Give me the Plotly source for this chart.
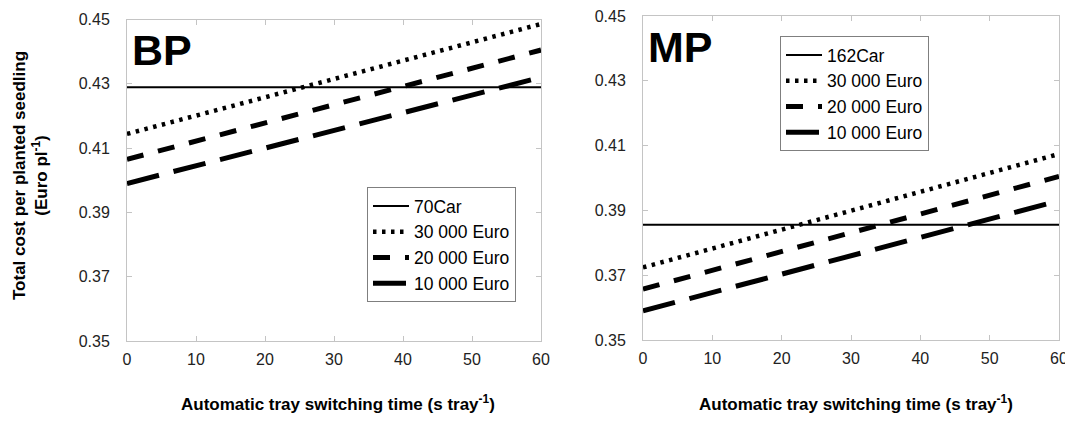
import plotly.graph_objects as go

# ---- data ----
switch_time = [0, 60]  # s tray-1

bp_names = ["70Car", "30 000 Euro", "20 000 Euro", "10 000 Euro"]
bp_ref = [0.4289, 0.4289]
bp_30k = [0.4144, 0.4486]
bp_20k = [0.4065, 0.4405]
bp_10k = [0.3990, 0.4320]

mp_names = ["162Car", "30 000 Euro", "20 000 Euro", "10 000 Euro"]
mp_ref = [0.3856, 0.3856]
mp_30k = [0.3724, 0.4074]
mp_20k = [0.3657, 0.4005]
mp_10k = [0.3590, 0.3930]

x_ticks = [0, 10, 20, 30, 40, 50, 60]
y_ticks = [0.35, 0.37, 0.39, 0.41, 0.43, 0.45]
y_tick_labels = ["0.35", "0.37", "0.39", "0.41", "0.43", "0.45"]

FONT = "Liberation Sans, Arial, sans-serif"

styles = [
    dict(color="black", width=2, dash="solid"),
    dict(color="black", width=4.5, dash="3.5px,5.5px"),
    dict(color="black", width=5, dash="17px,15px"),
    dict(color="black", width=5, dash="33px,15px"),
]

fig = go.Figure()

for name, vals, st in zip(bp_names, [bp_ref, bp_30k, bp_20k, bp_10k], styles):
    fig.add_trace(go.Scatter(x=switch_time, y=vals, mode="lines", name=name,
                             line=st, xaxis="x", yaxis="y", legend="legend"))
for name, vals, st in zip(mp_names, [mp_ref, mp_30k, mp_20k, mp_10k], styles):
    fig.add_trace(go.Scatter(x=switch_time, y=vals, mode="lines", name=name,
                             line=st, xaxis="x2", yaxis="y2", legend="legend2"))

W, H = 1073, 425
OFF = 8  # page body margin offset of the rendered figure

def px(v):
    return (v - OFF) / W

def py(v):
    return 1 - (v - OFF) / H

axis_common = dict(
    showgrid=False, zeroline=False, showline=True, linecolor="#c4c4c4", linewidth=1,
    mirror="ticks", ticks="inside", ticklen=5, tickcolor="#c4c4c4", tickwidth=1,
    automargin=False, ticklabeloverflow="allow",
    tickfont=dict(family=FONT, size=16, color="#222222"),
)

legend_common = dict(
    xanchor="left", yanchor="top",
    bordercolor="#7f7f7f", borderwidth=1, bgcolor="white",
    font=dict(family=FONT, size=17.5, color="black"),
    itemwidth=36, tracegroupgap=0,
)

fig.update_layout(
    template="none",
    width=W, height=H,
    margin=dict(l=0, r=0, t=0, b=0, pad=0),
    paper_bgcolor="white", plot_bgcolor="white",
    font=dict(family=FONT, color="black"),
    xaxis=dict(domain=[px(127), px(541)], range=[0, 60], tickvals=x_ticks,
               anchor="y", ticklabelstandoff=4, **axis_common),
    yaxis=dict(domain=[py(341), py(19.5)], range=[0.35, 0.45], tickvals=y_ticks,
               ticktext=y_tick_labels, anchor="x", ticklabelstandoff=13, **axis_common),
    xaxis2=dict(domain=[px(643), px(1059)], range=[0, 60], tickvals=x_ticks,
                anchor="y2", ticklabelstandoff=4, **axis_common),
    yaxis2=dict(domain=[py(340), py(16)], range=[0.35, 0.45], tickvals=y_ticks,
                ticktext=y_tick_labels, anchor="x2", ticklabelstandoff=13, **axis_common),
    legend=dict(x=px(367), y=py(187), **legend_common),
    legend2=dict(x=px(780), y=py(36), **legend_common),
    showlegend=True,
)

annotations = [
    dict(text="<b>BP</b>", x=px(130), y=py(50), xanchor="left", yanchor="middle",
         font=dict(family=FONT, size=43, color="black")),
    dict(text="<b>MP</b>", x=px(646), y=py(47), xanchor="left", yanchor="middle",
         font=dict(family=FONT, size=43, color="black")),
    dict(text="<b>Automatic tray switching time (s tray<sup>-1</sup>)</b>", x=px(338), y=py(403),
         xanchor="center", yanchor="middle", font=dict(family=FONT, size=17, color="black")),
    dict(text="<b>Automatic tray switching time (s tray<sup>-1</sup>)</b>", x=px(856), y=py(403),
         xanchor="center", yanchor="middle", font=dict(family=FONT, size=17, color="black")),
    dict(text="<b>Total cost per planted seedling<br>(Euro pl<sup>-1</sup>)</b>", x=px(30), y=py(176),
         xanchor="center", yanchor="middle", textangle=-90,
         font=dict(family=FONT, size=17, color="black")),
]
for a in annotations:
    a.update(xref="paper", yref="paper", showarrow=False)
fig.update_layout(annotations=annotations)

fig.write_html("out.html")
